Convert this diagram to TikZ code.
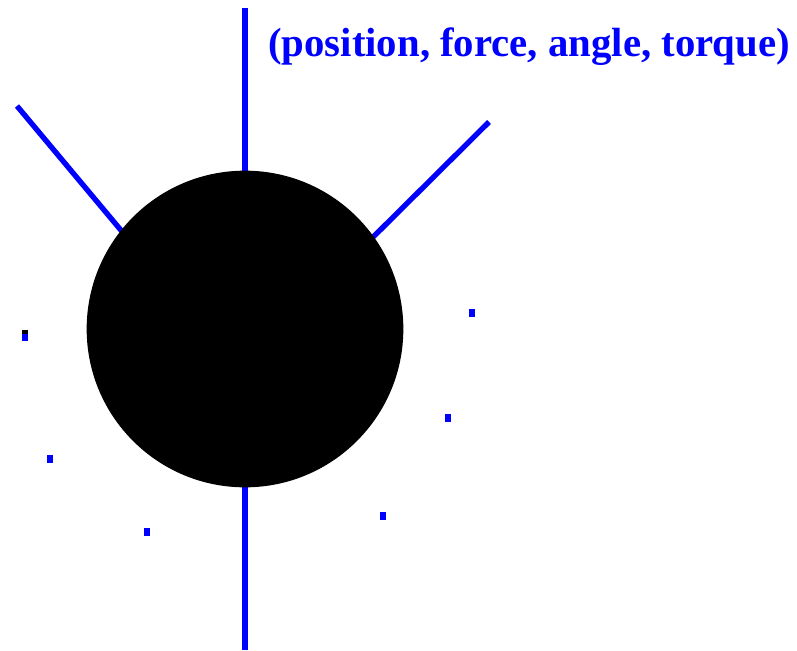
\documentclass[tikz,border=0pt]{standalone}
\usepackage{fontspec}
\setmainfont{Liberation Serif}
\begin{document}
\begin{tikzpicture}[
    x=0.03cm, y=-0.03cm,
    rod/.style={line width=0.16cm, blue},
    speck/.style={fill=blue},
    lbl/.style={blue, font=\fontsize{34.8}{38}\selectfont\bfseries, anchor=west, inner sep=0pt}
]
    \useasboundingbox (0,0) rectangle (797,650);
    % rods
    \coordinate (top) at (245,8);
    \coordinate (bot) at (245,650);
    \coordinate (ul) at (17,106);
    \coordinate (ur) at (489,122);
    \draw[rod] (top) -- (245,300);
    \draw[rod] (bot) -- (245,360);
    \draw[rod] (ul) -- (140,253);
    \draw[rod] (ur) -- (350,260);
    % ball
    \node[circle, fill=black, minimum size=9.5cm, inner sep=0pt] (ball) at (245,329) {};
    % specks
    \fill[black] (22,330) rectangle (28,334);
    \fill[speck] (22,334) rectangle (28,341);
    \fill[speck] (469,309) rectangle (475,317);
    \fill[speck] (445,414) rectangle (451,422);
    \fill[speck] (47,455) rectangle (53,463);
    \fill[speck] (144,528) rectangle (150,536);
    \fill[speck] (380,512) rectangle (386,520);
    % label
    \node[lbl] (state) at (268,47) {(position, force, angle, torque)};
\end{tikzpicture}
\end{document}
